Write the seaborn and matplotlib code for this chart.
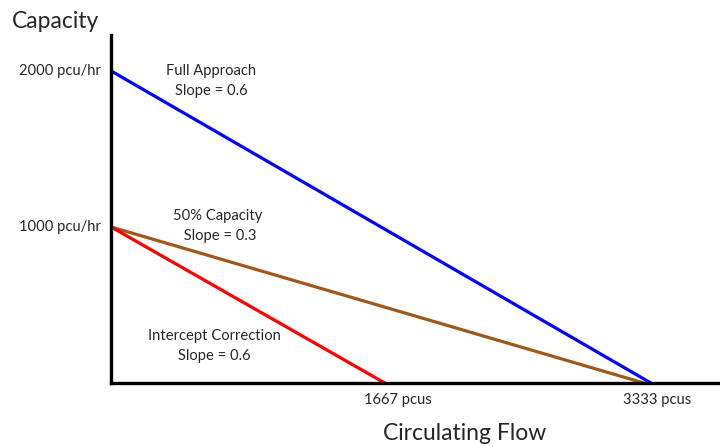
import pandas as pd
import matplotlib.pyplot as plt
import seaborn as sns

# Line end points (flow in pcus, capacity in pcu/hr)
series = ['Full Approach', '50% Capacity', 'Intercept Correction']
flow_start = [0, 0, 0]
flow_end = [3333, 3290, 1690]
cap_start = [2000, 1000, 1000]
cap_end = [0, 0, 0]
colors = ['#0000ff', '#a0581a', '#ff0000']

notes = ['Full Approach\nSlope = 0.6', '50% Capacity\n Slope = 0.3', 'Intercept Correction\nSlope = 0.6']
y_labels = ['2000 pcu/hr', '1000 pcu/hr']
y_vals = [2000, 1000]
x_labels = ['1667 pcus', '3333 pcus']
x_vals = [1770, 3372]

rows = []
for s, x0, x1, y0, y1 in zip(series, flow_start, flow_end, cap_start, cap_end):
    rows.append({'Series': s, 'Flow': x0, 'Capacity': y0})
    rows.append({'Series': s, 'Flow': x1, 'Capacity': y1})
df = pd.DataFrame(rows)

sns.set_style('white')
plt.rcParams['font.family'] = ['Lato', 'DejaVu Sans']

fig = plt.figure(figsize=(7.2, 4.47), dpi=100)
ax = fig.add_axes([111 / 720, 64 / 447, 1 - 111 / 720, (383 - 35) / 447])

sns.lineplot(data=df, x='Flow', y='Capacity', hue='Series', palette=colors,
             linewidth=2.3, legend=False, ax=ax)

ax.set_xlim(0, 3760)
ax.set_ylim(0, 2230)
ax.set_xticks([])
ax.set_yticks([])
ax.set_xlabel('')
ax.set_ylabel('')
for side in ['top', 'right']:
    ax.spines[side].set_visible(False)
for side in ['left', 'bottom']:
    ax.spines[side].set_linewidth(2.4)
    ax.spines[side].set_color('black')

# axis value labels
for v, lab in zip(y_vals, y_labels):
    ax.text(-65, v, lab, ha='right', va='center', fontsize=10.6)
for v, lab in zip(x_vals, x_labels):
    ax.text(v, -109, lab, ha='center', va='center', fontsize=10.6)

# line annotations
ax.text(620, 1933, notes[0], ha='center', va='center', fontsize=10.6, linespacing=1.55)
ax.text(660, 1006, notes[1], ha='center', va='center', fontsize=10.6, linespacing=1.55)
ax.text(640, 237, notes[2], ha='center', va='center', fontsize=10.6, linespacing=1.55)

fig.text(12 / 720, 1 - 22 / 447, 'Capacity', ha='left', va='center', fontsize=16.5)
fig.text(465 / 720, 1 - 433 / 447, 'Circulating Flow', ha='center', va='center', fontsize=16.5)

fig.savefig('out.png', dpi=100)
